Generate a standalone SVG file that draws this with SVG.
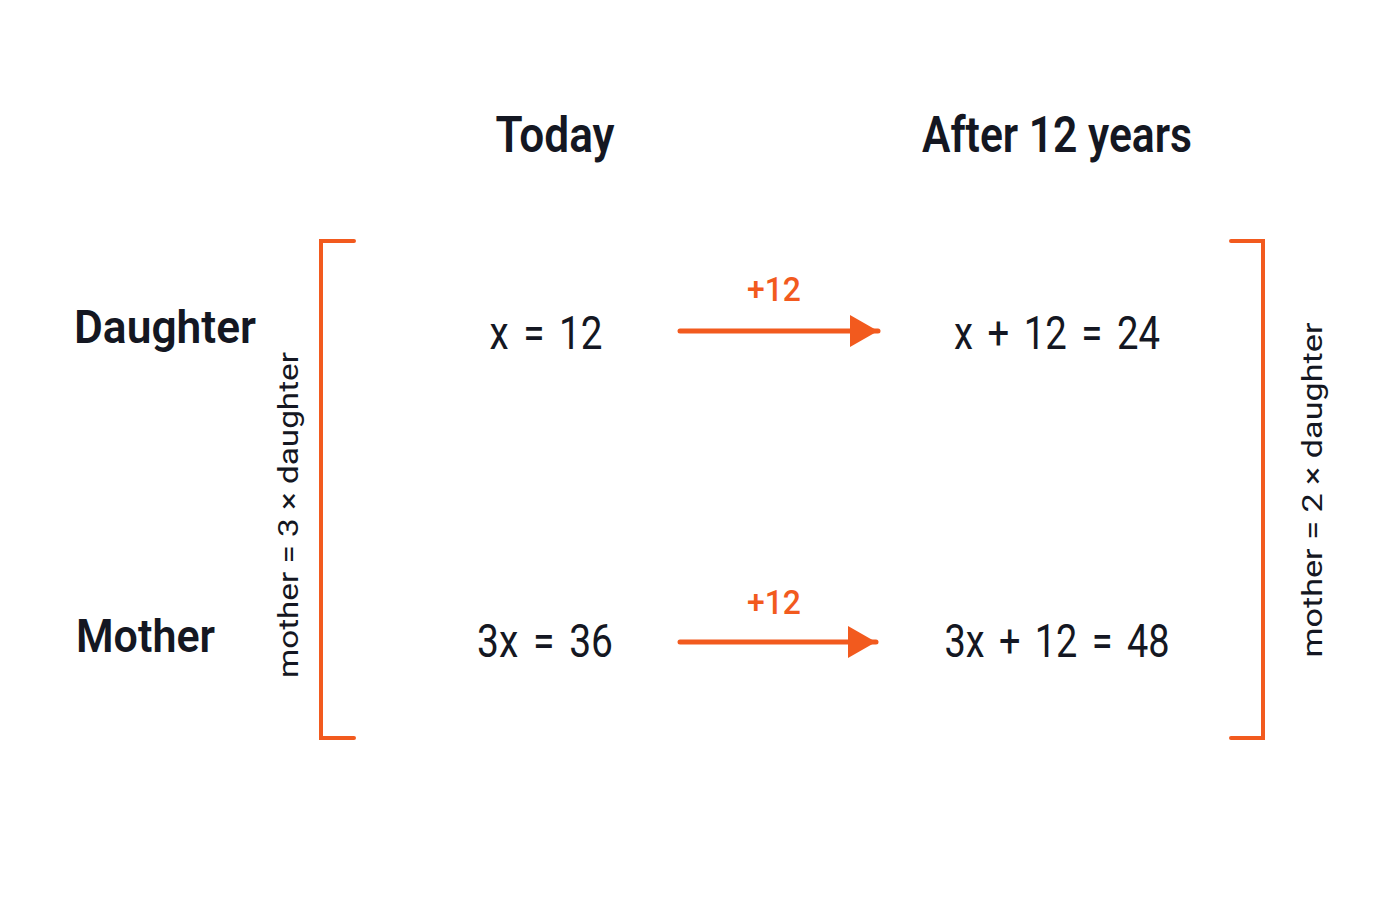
<svg xmlns="http://www.w3.org/2000/svg" width="1400" height="900" viewBox="0 0 1400 900">
<style>
.hdr{font-family:Roboto,"Liberation Sans",sans-serif;font-weight:600;fill:#141722;}
.eq{font-family:Roboto,"Liberation Sans",sans-serif;font-weight:400;fill:#141722;font-size:46px;word-spacing:6px;}
.side{font-family:Roboto,"Liberation Sans",sans-serif;font-weight:400;fill:#141722;font-size:27px;}
.plus{font-family:Roboto,"Liberation Sans",sans-serif;font-weight:500;fill:#F25A1E;font-size:33px;}
.br{fill:none;stroke:#F25A1E;stroke-width:4;stroke-linecap:round;stroke-linejoin:miter;}
.ar{stroke:#F25A1E;stroke-width:5;stroke-linecap:round;fill:none;}
</style>
<defs>
<marker id="ah" markerUnits="userSpaceOnUse" markerWidth="30" markerHeight="34" refX="28" refY="17" orient="auto">
<path d="M0,1 L28,17 L0,33 Z" fill="#F25A1E"/>
</marker>
</defs>
<rect width="1400" height="900" fill="#ffffff"/>
<g id="header-today"><text class="hdr" x="555" y="152" font-size="50" text-anchor="middle" textLength="119" lengthAdjust="spacingAndGlyphs">Today</text></g>
<g id="header-after"><text class="hdr" x="1057" y="152" font-size="50" text-anchor="middle" textLength="270" lengthAdjust="spacingAndGlyphs">After 12 years</text></g>
<g id="label-daughter"><text class="hdr" x="74" y="343" font-size="46" textLength="182" lengthAdjust="spacingAndGlyphs">Daughter</text></g>
<g id="label-mother"><text class="hdr" x="76" y="652" font-size="46" textLength="139" lengthAdjust="spacingAndGlyphs">Mother</text></g>
<g id="bracket-left">
<path class="br" d="M354,241 L321,241 L321,738 L354,738"/>
<text class="side" transform="translate(298,515) rotate(-90)" text-anchor="middle" textLength="326" lengthAdjust="spacingAndGlyphs">mother = 3 × daughter</text>
</g>
<g id="bracket-right">
<path class="br" d="M1231,241 L1263,241 L1263,738 L1231,738"/>
<text class="side" transform="translate(1322,490) rotate(-90)" text-anchor="middle" textLength="335" lengthAdjust="spacingAndGlyphs">mother = 2 × daughter</text>
</g>
<g id="daughter-today"><text class="eq" x="546" y="349" text-anchor="middle" textLength="113" lengthAdjust="spacingAndGlyphs">x = 12</text></g>
<g id="daughter-after"><text class="eq" x="1057" y="349" text-anchor="middle" textLength="206" lengthAdjust="spacingAndGlyphs">x + 12 = 24</text></g>
<g id="mother-today"><text class="eq" x="545" y="657" text-anchor="middle" textLength="136" lengthAdjust="spacingAndGlyphs">3x = 36</text></g>
<g id="mother-after"><text class="eq" x="1057" y="657" text-anchor="middle" textLength="225" lengthAdjust="spacingAndGlyphs">3x + 12 = 48</text></g>
<g id="connectors">
<line class="ar" x1="680" y1="331" x2="878" y2="331" marker-end="url(#ah)"/>
<text class="plus" x="774" y="301" text-anchor="middle" textLength="54" lengthAdjust="spacingAndGlyphs">+12</text>
<line class="ar" x1="680" y1="642" x2="876" y2="642" marker-end="url(#ah)"/>
<text class="plus" x="774" y="614" text-anchor="middle" textLength="54" lengthAdjust="spacingAndGlyphs">+12</text>
</g>
</svg>
